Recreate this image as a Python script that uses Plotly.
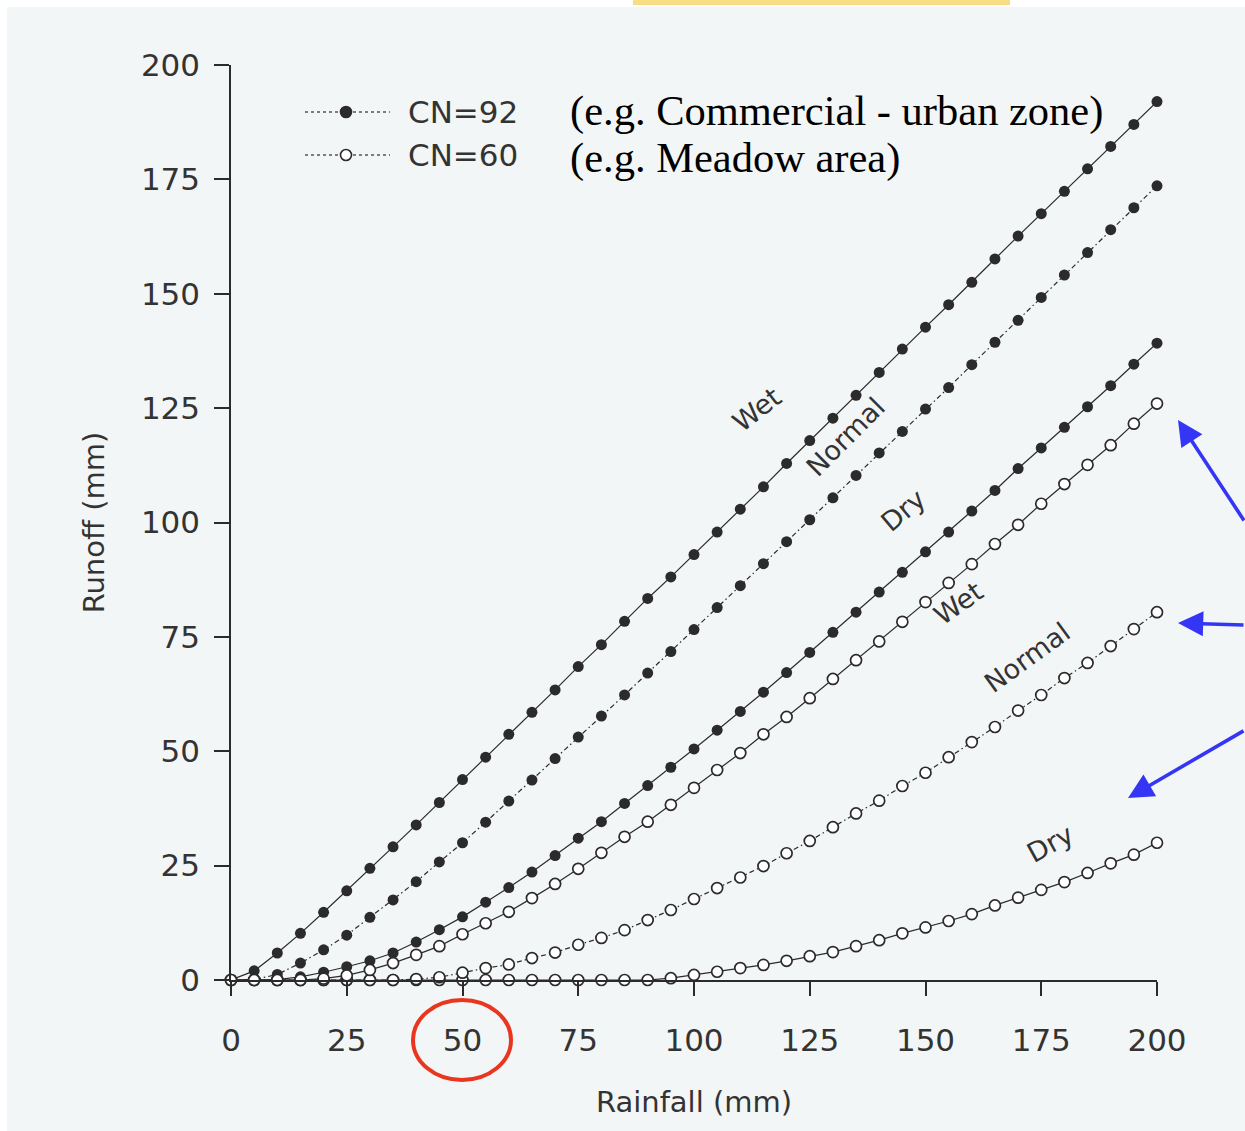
import plotly.graph_objects as go

# Rainfall depth (mm) at which runoff was evaluated
rainfall = [0, 5, 10, 15, 20, 25, 30, 35, 40, 45, 50, 55, 60, 65, 70, 75, 80,
            85, 90, 95, 100, 105, 110, 115, 120, 125, 130, 135, 140, 145, 150,
            155, 160, 165, 170, 175, 180, 185, 190, 195, 200]

# Runoff (mm), CN=92 under wet / normal / dry antecedent conditions
cn92_wet = [0, 2.0, 5.9, 10.2, 14.8, 19.5, 24.4, 29.1, 33.9, 38.8, 43.8, 48.7,
            53.7, 58.5, 63.4, 68.5, 73.3, 78.4, 83.4, 88.1, 93.0, 97.9, 102.9,
            107.8, 112.9, 117.9, 122.8, 127.8, 132.8, 137.9, 142.7, 147.6,
            152.5, 157.6, 162.6, 167.5, 172.4, 177.3, 182.2, 187.0, 192.0]
cn92_normal = [0, 0.1, 1.2, 3.7, 6.6, 9.8, 13.7, 17.5, 21.5, 25.8, 30.0, 34.5,
               39.1, 43.7, 48.4, 53.1, 57.7, 62.3, 67.1, 71.8, 76.6, 81.4,
               86.2, 91.0, 95.8, 100.6, 105.4, 110.3, 115.2, 119.9, 124.8,
               129.5, 134.5, 139.4, 144.2, 149.2, 154.1, 159.0, 164.0, 168.8,
               173.6]
cn92_dry = [0, 0, 0.1, 0.7, 1.7, 2.9, 4.2, 5.9, 8.3, 11.0, 13.8, 17.0, 20.2,
            23.6, 27.2, 31.0, 34.6, 38.6, 42.5, 46.5, 50.5, 54.6, 58.7, 62.9,
            67.2, 71.6, 76.0, 80.4, 84.8, 89.1, 93.6, 97.9, 102.5, 107.0,
            111.8, 116.3, 120.8, 125.3, 129.9, 134.6, 139.2]

# Runoff (mm), CN=60 under wet / normal / dry antecedent conditions
cn60_wet = [0, 0, 0, 0, 0.3, 1.0, 2.2, 3.7, 5.5, 7.4, 10.0, 12.4, 14.9, 17.9,
            21.0, 24.3, 27.8, 31.3, 34.6, 38.3, 42.0, 45.9, 49.6, 53.7, 57.5,
            61.6, 65.8, 69.9, 74.0, 78.3, 82.6, 86.8, 90.9, 95.3, 99.5, 104.1,
            108.4, 112.6, 116.9, 121.6, 126.0]
cn60_normal = [0, 0, 0, 0, 0, 0, 0, 0, 0.2, 0.6, 1.6, 2.6, 3.4, 4.8, 6.0, 7.7,
               9.2, 10.9, 13.1, 15.3, 17.7, 20.1, 22.4, 24.9, 27.7, 30.4, 33.4,
               36.4, 39.2, 42.4, 45.3, 48.7, 52.0, 55.3, 58.9, 62.3, 66.0,
               69.3, 73.0, 76.7, 80.4]
cn60_dry = [0, 0, 0, 0, 0, 0, 0, 0, 0, 0, 0, 0, 0, 0, 0, 0, 0, 0, 0, 0.4, 1.1,
            1.8, 2.6, 3.3, 4.2, 5.2, 6.1, 7.4, 8.7, 10.2, 11.5, 12.9, 14.4,
            16.3, 18.0, 19.7, 21.4, 23.4, 25.5, 27.4, 30.0]

x_ticks = [0, 25, 50, 75, 100, 125, 150, 175, 200]
y_ticks = [0, 25, 50, 75, 100, 125, 150, 175, 200]

INK = "#2b2b2b"
SANS = "DejaVu Sans"
SERIF = "Liberation Serif"
BG = "#f3f6f6"

W, H = 1245, 1131
L, R, T, B = 231, 88, 65, 151
PW, PH = W - L - R, H - T - B


def px(x):
    """Horizontal pixel -> paper coordinate."""
    return (x - L) / PW


def py(y):
    """Vertical pixel (from top) -> paper coordinate."""
    return (H - B - y) / PH


dash_norm = "5px,3px,1.5px,3px"

fig = go.Figure()

filled = dict(symbol="circle", size=11, color=INK, line=dict(width=0))
hollow = dict(symbol="circle", size=11, color="white",
              line=dict(width=1.7, color=INK))

series = [
    (cn92_dry, "solid", filled),
    (cn92_normal, dash_norm, filled),
    (cn92_wet, "solid", filled),
    (cn60_dry, "solid", hollow),
    (cn60_normal, dash_norm, hollow),
    (cn60_wet, "solid", hollow),
]
for ys, dash, mk in series:
    fig.add_trace(go.Scatter(
        x=rainfall, y=ys, mode="lines+markers",
        line=dict(color=INK, width=1.2, dash=dash),
        marker=mk, cliponaxis=False, showlegend=False, hoverinfo="skip"))

shapes = []
annotations = []

# page: white scan margins and a highlighter stroke along the top
shapes.append(dict(type="rect", xref="paper", yref="paper",
                   x0=px(0), x1=px(W), y0=py(0), y1=py(7),
                   fillcolor="white", line=dict(width=0), layer="below"))
shapes.append(dict(type="rect", xref="paper", yref="paper",
                   x0=px(0), x1=px(7), y0=py(0), y1=py(H),
                   fillcolor="white", line=dict(width=0), layer="below"))
shapes.append(dict(type="rect", xref="paper", yref="paper",
                   x0=px(633), x1=px(1010), y0=py(0), y1=py(5),
                   fillcolor="#f6cf4d", opacity=0.7, line=dict(width=0)))

# hand-made legend
for yc, mk_fill, label in [(112, INK, "CN=92"), (155, "white", "CN=60")]:
    shapes.append(dict(type="line", xref="paper", yref="paper",
                       x0=px(305), x1=px(390), y0=py(yc), y1=py(yc),
                       line=dict(color="#555", width=1.3, dash="dot")))
    shapes.append(dict(type="circle", xref="paper", yref="paper",
                       xsizemode="pixel", ysizemode="pixel",
                       xanchor=px(346), yanchor=py(yc),
                       x0=-5.5, x1=5.5, y0=-5.5, y1=5.5,
                       fillcolor=mk_fill, line=dict(color=INK, width=1.6)))
    annotations.append(dict(xref="paper", yref="paper", x=px(406), y=py(yc),
                            xanchor="left", yanchor="middle", showarrow=False,
                            text=label, font=dict(family=SANS, size=31,
                                                  color="#333")))

# land-use notes
for yc, txt in [(111, "(e.g. Commercial - urban zone)"),
                (158, "(e.g. Meadow area)")]:
    annotations.append(dict(xref="paper", yref="paper", x=px(568), y=py(yc),
                            xanchor="left", yanchor="middle", showarrow=False,
                            text=txt, font=dict(family=SERIF, size=42.5,
                                                color="black")))

# curve labels (data coordinates)
curve_labels = [
    ("Wet", 113.6, 124.6, -38),
    ("Normal", 132.8, 118.7, -45),
    ("Dry", 145.1, 102.7, -40),
    ("Wet", 157.0, 82.4, -35),
    ("Normal", 171.9, 70.6, -36),
    ("Dry", 176.9, 29.9, -29),
]
for txt, xv, yv, ang in curve_labels:
    annotations.append(dict(x=xv, y=yv, xref="x", yref="y", text=txt,
                            textangle=ang, showarrow=False,
                            font=dict(family=SANS, size=27, color="#333")))

# blue pointer arrows towards the CN=60 curves
for tip, tail in [((1178, 420), (1250, 522)),
                  ((1178, 623), (1250, 625)),
                  ((1128, 798), (1250, 730))]:
    annotations.append(dict(xref="paper", yref="paper",
                            x=px(tip[0]), y=py(tip[1]),
                            ax=tail[0] - tip[0], ay=tail[1] - tip[1],
                            axref="pixel", ayref="pixel",
                            showarrow=True, arrowhead=2, arrowsize=1.4,
                            arrowwidth=3.6, arrowcolor="#3535f5", text=""))

# red ring round the 50 mm tick label
shapes.append(dict(type="circle", xref="paper", yref="paper",
                   x0=px(413), x1=px(511), y0=py(1080), y1=py(1000),
                   line=dict(color="#e8361f", width=4)))

axis_common = dict(
    showgrid=False, zeroline=False, showline=True, linecolor=INK,
    linewidth=1.5, ticks="outside", tickcolor=INK, tickwidth=1.5,
    tickfont=dict(family=SANS, size=31, color="#333"),
)

fig.update_layout(
    width=W, height=H,
    margin=dict(l=L, r=R, t=T, b=B, pad=0),
    paper_bgcolor=BG, plot_bgcolor=BG,
    showlegend=False,
    xaxis=dict(range=[0, 200], tickvals=x_ticks, ticklen=14,
               ticklabelstandoff=18,
               title=dict(text="Rainfall (mm)", standoff=35,
                          font=dict(family=SANS, size=29, color="#333")),
               **axis_common),
    yaxis=dict(range=[0, 200], tickvals=y_ticks, ticklen=15,
               ticklabelstandoff=8,
               title=dict(text="Runoff (mm)", standoff=28,
                          font=dict(family=SANS, size=29, color="#333")),
               **axis_common),
    shapes=shapes,
    annotations=annotations,
)

fig.write_html("out.html")
